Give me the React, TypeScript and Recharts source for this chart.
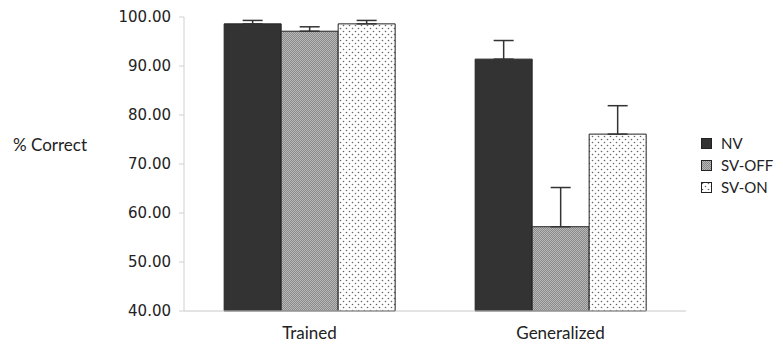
import React from 'react';
import { BarChart, Bar, XAxis, YAxis, ErrorBar, Legend } from 'recharts';

const categories = ['Trained', 'Generalized'];
const nvValues = [98.6, 91.4];
const nvErrors = [0.7, 3.8];
const svOffValues = [97.1, 57.2];
const svOffErrors = [0.9, 8.0];
const svOnValues = [98.6, 76.1];
const svOnErrors = [0.7, 5.8];
const yTicks = [40, 50, 60, 70, 80, 90, 100];

const seriesNames = ['NV', 'SV-OFF', 'SV-ON'];

const data = categories.map((c, i) => ({
  category: c,
  nv: nvValues[i],
  nvErr: [0, nvErrors[i]],
  svOff: svOffValues[i],
  svOffErr: [0, svOffErrors[i]],
  svOn: svOnValues[i],
  svOnErr: [0, svOnErrors[i]],
}));

const fills = ['#333333', 'url(#patOff)', 'url(#patOn)'];
const labelFont = 'Lato, "Open Sans", sans-serif';

const LegendContent = () => (
  <div style={{ fontFamily: labelFont, fontSize: 15, color: '#222' }}>
    {seriesNames.map((n, i) => (
      <div key={n} style={{ display: 'flex', alignItems: 'center', height: 22 }}>
        <svg width={11} height={11} style={{ marginRight: 9 }}>
          <rect x={0.5} y={0.5} width={10} height={10} fill={fills[i]} stroke="#222" strokeWidth={1} />
        </svg>
        <span>{n}</span>
      </div>
    ))}
  </div>
);

export default function App() {
  return (
    <div style={{ position: 'absolute', left: 0, top: 0 }}>
      <BarChart
        width={783}
        height={349}
        data={data}
        margin={{ top: 17, right: 97, bottom: 0, left: 0 }}
        barGap={0}
        barCategoryGap="16%"
      >
        <defs>
          <pattern id="patOff" width="2" height="2" patternUnits="userSpaceOnUse">
            <rect x="0" y="0" width="2" height="2" fill="#8a8a8a" />
            <rect x="0" y="0" width="1" height="1" fill="#b8b8b8" />
            <rect x="1" y="1" width="1" height="1" fill="#b8b8b8" />
          </pattern>
          <pattern id="patOn" width="6" height="6" patternUnits="userSpaceOnUse">
            <rect x="0" y="0" width="6" height="6" fill="#ffffff" />
            <circle cx="1.5" cy="1.5" r="0.8" fill="#666" />
            <circle cx="4.5" cy="4.5" r="0.8" fill="#666" />
          </pattern>
        </defs>
        <XAxis
          dataKey="category"
          height={38}
          tickLine={false}
          stroke="#c8c8c8"
          tick={{ fill: '#222', fontSize: 17, fontFamily: labelFont }}
          tickMargin={10}
        />
        <YAxis
          width={184}
          domain={[40, 100]}
          ticks={yTicks}
          tickFormatter={(v: number) => v.toFixed(2)}
          stroke="#d0d0d0"
          tickSize={5}
          tickMargin={8}
          tick={{ fill: '#222', fontSize: 15, fontFamily: '"DejaVu Sans", Verdana, sans-serif' }}
          label={{
            value: '% Correct',
            position: 'insideLeft',
            offset: 13,
            dy: -19,
            style: { fill: '#222', fontSize: 17, fontFamily: labelFont, textAnchor: 'start' },
          }}
        />
        <Legend
          layout="vertical"
          align="center"
          verticalAlign="middle"
          content={<LegendContent />}
          wrapperStyle={{ left: 701, top: 132, width: 80 }}
        />
        <Bar dataKey="nv" name="NV" fill={fills[0]} stroke="#222" strokeWidth={1} isAnimationActive={false}>
          <ErrorBar dataKey="nvErr" width={10} stroke="#333" strokeWidth={1.5} direction="y" />
        </Bar>
        <Bar dataKey="svOff" name="SV-OFF" fill={fills[1]} stroke="#222" strokeWidth={1} isAnimationActive={false}>
          <ErrorBar dataKey="svOffErr" width={10} stroke="#333" strokeWidth={1.5} direction="y" />
        </Bar>
        <Bar dataKey="svOn" name="SV-ON" fill={fills[2]} stroke="#222" strokeWidth={1} isAnimationActive={false}>
          <ErrorBar dataKey="svOnErr" width={10} stroke="#333" strokeWidth={1.5} direction="y" />
        </Bar>
      </BarChart>
    </div>
  );
}
